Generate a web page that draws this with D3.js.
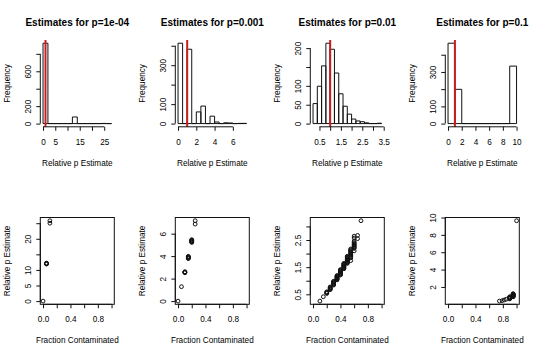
<!DOCTYPE html>
<html><head><meta charset="utf-8">
<script src="https://cdn.jsdelivr.net/npm/d3@7/dist/d3.min.js"></script>
<style>
html,body{margin:0;padding:0;background:#fff;}
svg{display:block;font-family:"Liberation Sans",Arial,Helvetica,sans-serif;}
</style></head><body>
<script>
// ---------- data ----------
const histTitles = ["Estimates for p=1e-04", "Estimates for p=0.001", "Estimates for p=0.01", "Estimates for p=0.1"];
const trueValue = 1;

const hist1Breaks = [0, 2, 4, 6, 8, 10, 12, 14, 16, 18, 20, 22, 24, 26, 28];
const hist1Counts = [922, 0, 0, 0, 0, 0, 76, 0, 0, 0, 0, 0, 2, 0];
const hist2Breaks = [0, 0.5, 1, 1.5, 2, 2.5, 3, 3.5, 4, 4.5, 5, 5.5, 6, 6.5, 7, 7.5];
const hist2Counts = [413, 0, 382, 0, 60, 90, 0, 38, 8, 0, 4, 3, 0, 1, 1];
const hist3Breaks = [0.2, 0.4, 0.6, 0.8, 1.0, 1.2, 1.4, 1.6, 1.8, 2.0, 2.2, 2.4, 2.6, 2.8, 3.0, 3.2, 3.4];
const hist3Counts = [53, 99, 153, 213, 197, 134, 79, 46, 25, 12, 7, 5, 2, 0, 0, 1];
const hist4Breaks = [0, 1, 2, 3, 4, 5, 6, 7, 8, 9, 10];
const hist4Counts = [467, 199, 0, 0, 0, 0, 0, 0, 0, 334];

const hist1XTicks = [0, 5, 10, 15, 20, 25];
const hist1XLabels = ["0", "5", "", "15", "", "25"];
const hist1YTicks = [0, 200, 400, 600, 800];
const hist1YLabels = ["0", "200", "", "600", ""];
const hist2XTicks = [0, 2, 4, 6];
const hist2XLabels = ["0", "2", "4", "6"];
const hist2YTicks = [0, 100, 200, 300, 400];
const hist2YLabels = ["0", "100", "", "300", ""];
const hist3XTicks = [0.5, 1.0, 1.5, 2.0, 2.5, 3.0, 3.5];
const hist3XLabels = ["0.5", "", "1.5", "", "2.5", "", "3.5"];
const hist3YTicks = [0, 50, 100, 150, 200];
const hist3YLabels = ["0", "50", "100", "", "200"];
const hist4XTicks = [0, 2, 4, 6, 8, 10];
const hist4XLabels = ["0", "2", "4", "6", "8", "10"];
const hist4YTicks = [0, 100, 200, 300, 400];
const hist4YLabels = ["0", "100", "", "300", ""];

// scatter points: [fraction contaminated, relative p estimate]
const scat1Points = [[0, 0],
  [0.05, 11.9], [0.05, 11.97], [0.05, 12.04], [0.05, 12.11], [0.05, 12.18],
  [0.1, 25.0], [0.1, 25.8]];
const scat2Points = [[0, 0], [0.05, 1.28],
  [0.1, 2.52], [0.1, 2.55], [0.1, 2.58], [0.1, 2.61],
  [0.15, 3.78], [0.15, 3.82], [0.15, 3.86], [0.15, 3.9], [0.15, 3.94], [0.15, 3.98],
  [0.2, 5.22], [0.2, 5.26], [0.2, 5.3], [0.2, 5.34], [0.2, 5.38], [0.2, 5.42], [0.2, 5.46],
  [0.25, 6.85], [0.25, 7.15]];
const scat3Points = [[0.1, 0.25], [0.15, 0.41],
  [0.2, 0.53], [0.2, 0.55], [0.2, 0.57], [0.2, 0.59],
  [0.25, 0.67], [0.25, 0.69], [0.25, 0.71], [0.25, 0.73], [0.25, 0.75], [0.25, 0.77],
  [0.3, 0.84], [0.3, 0.86], [0.3, 0.88], [0.3, 0.9], [0.3, 0.92], [0.3, 0.94], [0.3, 0.96], [0.3, 0.98],
  [0.35, 1.03], [0.35, 1.05], [0.35, 1.07], [0.35, 1.09], [0.35, 1.11], [0.35, 1.13], [0.35, 1.15], [0.35, 1.17], [0.35, 1.19],
  [0.4, 1.21], [0.4, 1.23], [0.4, 1.25], [0.4, 1.27], [0.4, 1.29], [0.4, 1.31], [0.4, 1.33], [0.4, 1.35], [0.4, 1.37], [0.4, 1.39], [0.4, 1.41],
  [0.45, 1.44], [0.45, 1.46], [0.45, 1.48], [0.45, 1.5], [0.45, 1.52], [0.45, 1.54], [0.45, 1.56], [0.45, 1.58], [0.45, 1.6], [0.45, 1.62], [0.45, 1.64],
  [0.5, 1.64], [0.5, 1.66], [0.5, 1.68], [0.5, 1.7], [0.5, 1.72], [0.5, 1.74], [0.5, 1.76], [0.5, 1.78], [0.5, 1.8], [0.5, 1.82], [0.5, 1.84], [0.5, 1.86], [0.5, 1.88], [0.5, 1.9],
  [0.55, 1.74], [0.55, 1.84], [0.55, 1.87], [0.55, 1.9], [0.55, 1.93], [0.55, 1.96], [0.55, 1.99], [0.55, 2.02], [0.55, 2.05], [0.55, 2.08], [0.55, 2.11], [0.55, 2.14], [0.55, 2.17],
  [0.6, 2.1], [0.6, 2.19], [0.6, 2.22], [0.6, 2.25], [0.6, 2.28], [0.6, 2.31], [0.6, 2.34], [0.6, 2.37], [0.6, 2.4], [0.6, 2.45], [0.6, 2.57], [0.6, 2.64],
  [0.65, 2.55], [0.65, 2.67],
  [0.7, 3.21]];
const scat4Points = [[0.75, 0.37], [0.79, 0.42], [0.82, 0.5], [0.85, 0.58],
  [0.9, 0.62], [0.9, 0.66], [0.9, 0.7], [0.9, 0.74], [0.9, 0.78], [0.9, 0.82], [0.9, 0.86],
  [0.95, 0.86], [0.95, 0.9], [0.95, 0.94], [0.95, 0.98], [0.95, 1.02], [0.95, 1.06], [0.95, 1.1], [0.95, 1.14], [0.95, 1.18], [0.95, 1.22],
  [1.0, 9.63]];

const scatXTicks = [0, 0.2, 0.4, 0.6, 0.8, 1.0];
const scatXLabels = ["0.0", "", "0.4", "", "0.8", ""];
const scat1YTicks = [0, 5, 10, 15, 20, 25];
const scat1YLabels = ["0", "5", "10", "", "20", ""];
const scat2YTicks = [0, 2, 4, 6];
const scat2YLabels = ["0", "2", "4", "6"];
const scat3YTicks = [0.5, 1.0, 1.5, 2.0, 2.5, 3.0];
const scat3YLabels = ["0.5", "", "1.5", "", "2.5", ""];
const scat4YTicks = [2, 4, 6, 8, 10];
const scat4YLabels = ["2", "4", "6", "8", "10"];

// ---------- layout ----------
const W = 540, H = 355, PW = 135, PH = 177.5;
const M = {l: 40.3, r: 114.3, t: 40, b: 126.8};
const FS = 8.2;
const INK = "#111";

const svg = d3.select("body").append("svg").attr("width", W).attr("height", H);
svg.append("rect").attr("width", W).attr("height", H).attr("fill", "#fff");

function padded(lo, hi) { const d = (hi - lo) * 0.04; return [lo - d, hi + d]; }

function drawAxes(g, x, y, xt, xl, yt, yl, xTitle, yTitle) {
  const ax = g.append("g").attr("transform", `translate(0,${M.b})`)
    .call(d3.axisBottom(x).tickValues(xt).tickSize(4).tickPadding(8.3).tickFormat((d, i) => xl[i]));
  ax.select(".domain").remove();
  ax.attr("font-size", FS).attr("font-family", null);
  ax.selectAll("line").attr("stroke", INK);
  ax.selectAll("text").attr("fill", "#000");
  ax.append("line").attr("x1", x(xt[0])).attr("x2", x(xt[xt.length - 1]))
    .attr("y1", 0).attr("y2", 0).attr("stroke", INK);

  const ay = g.append("g").attr("transform", `translate(${M.l},0)`)
    .call(d3.axisLeft(y).tickValues(yt).tickSize(4).tickFormat((d, i) => yl[i]));
  ay.select(".domain").remove();
  ay.attr("font-size", FS).attr("font-family", null);
  ay.selectAll("line").attr("stroke", INK);
  ay.selectAll("text").attr("x", null).attr("dy", "0.35em").attr("fill", "#000")
    .attr("text-anchor", "middle").attr("transform", "translate(-12,0) rotate(-90)");
  ay.append("line").attr("x1", 0).attr("x2", 0)
    .attr("y1", y(yt[0])).attr("y2", y(yt[yt.length - 1])).attr("stroke", INK);

  g.append("text").attr("x", (M.l + M.r) / 2).attr("y", M.b + 36).attr("dy", "0.35em")
    .attr("text-anchor", "middle").attr("font-size", FS).text(xTitle);
  g.append("text").attr("transform", `translate(7,${(M.t + M.b) / 2}) rotate(-90)`)
    .attr("dy", "0.35em").attr("text-anchor", "middle").attr("font-size", FS).text(yTitle);
}

const hists = [
  [hist1Breaks, hist1Counts, hist1XTicks, hist1XLabels, hist1YTicks, hist1YLabels],
  [hist2Breaks, hist2Counts, hist2XTicks, hist2XLabels, hist2YTicks, hist2YLabels],
  [hist3Breaks, hist3Counts, hist3XTicks, hist3XLabels, hist3YTicks, hist3YLabels],
  [hist4Breaks, hist4Counts, hist4XTicks, hist4XLabels, hist4YTicks, hist4YLabels]
];

hists.forEach(([br, ct, xt, xl, yt, yl], i) => {
  const g = svg.append("g").attr("transform", `translate(${i * PW},0)`);
  const x = d3.scaleLinear().domain(padded(br[0], br[br.length - 1])).range([M.l, M.r]);
  const y = d3.scaleLinear().domain(padded(0, d3.max(ct))).range([M.b, M.t]);
  const bins = ct.map((c, k) => ({x0: br[k], x1: br[k + 1], c}));
  g.selectAll("path.bar").data(bins).enter().append("path").attr("class", "bar")
    .attr("d", d => `M${x(d.x0)},${y(0)}V${y(d.c)}H${x(d.x1)}V${y(0)}Z`)
    .attr("fill", "none").attr("stroke", INK).attr("stroke-width", 1);
  g.append("line").attr("x1", x(trueValue)).attr("x2", x(trueValue))
    .attr("y1", M.t).attr("y2", M.b).attr("stroke", "#c81e1e").attr("stroke-width", 2);
  drawAxes(g, x, y, xt, xl, yt, yl, "Relative p Estimate", "Frequency");
  g.append("text").attr("x", (M.l + M.r) / 2).attr("y", 22.7).attr("dy", "0.35em")
    .attr("text-anchor", "middle").attr("font-size", 10).attr("font-weight", "bold").text(histTitles[i]);
});

const scats = [
  [scat1Points, scat1YTicks, scat1YLabels],
  [scat2Points, scat2YTicks, scat2YLabels],
  [scat3Points, scat3YTicks, scat3YLabels],
  [scat4Points, scat4YTicks, scat4YLabels]
];

scats.forEach(([pts, yt, yl], i) => {
  const g = svg.append("g").attr("transform", `translate(${i * PW},${PH})`);
  const x = d3.scaleLinear().domain(padded(0, 1)).range([M.l, M.r]);
  const y = d3.scaleLinear().domain(padded(d3.min(pts, d => d[1]), d3.max(pts, d => d[1]))).range([M.b, M.t]);
  g.append("rect").attr("x", M.l).attr("y", M.t).attr("width", M.r - M.l).attr("height", M.b - M.t)
    .attr("fill", "none").attr("stroke", INK).attr("stroke-width", 1);
  g.selectAll("circle").data(pts).enter().append("circle")
    .attr("cx", d => x(d[0])).attr("cy", d => y(d[1])).attr("r", 1.9)
    .attr("fill", "none").attr("stroke", INK).attr("stroke-width", 1);
  drawAxes(g, x, y, scatXTicks, scatXLabels, yt, yl, "Fraction Contaminated", "Relative p Estimate");
});
</script>
</body></html>
